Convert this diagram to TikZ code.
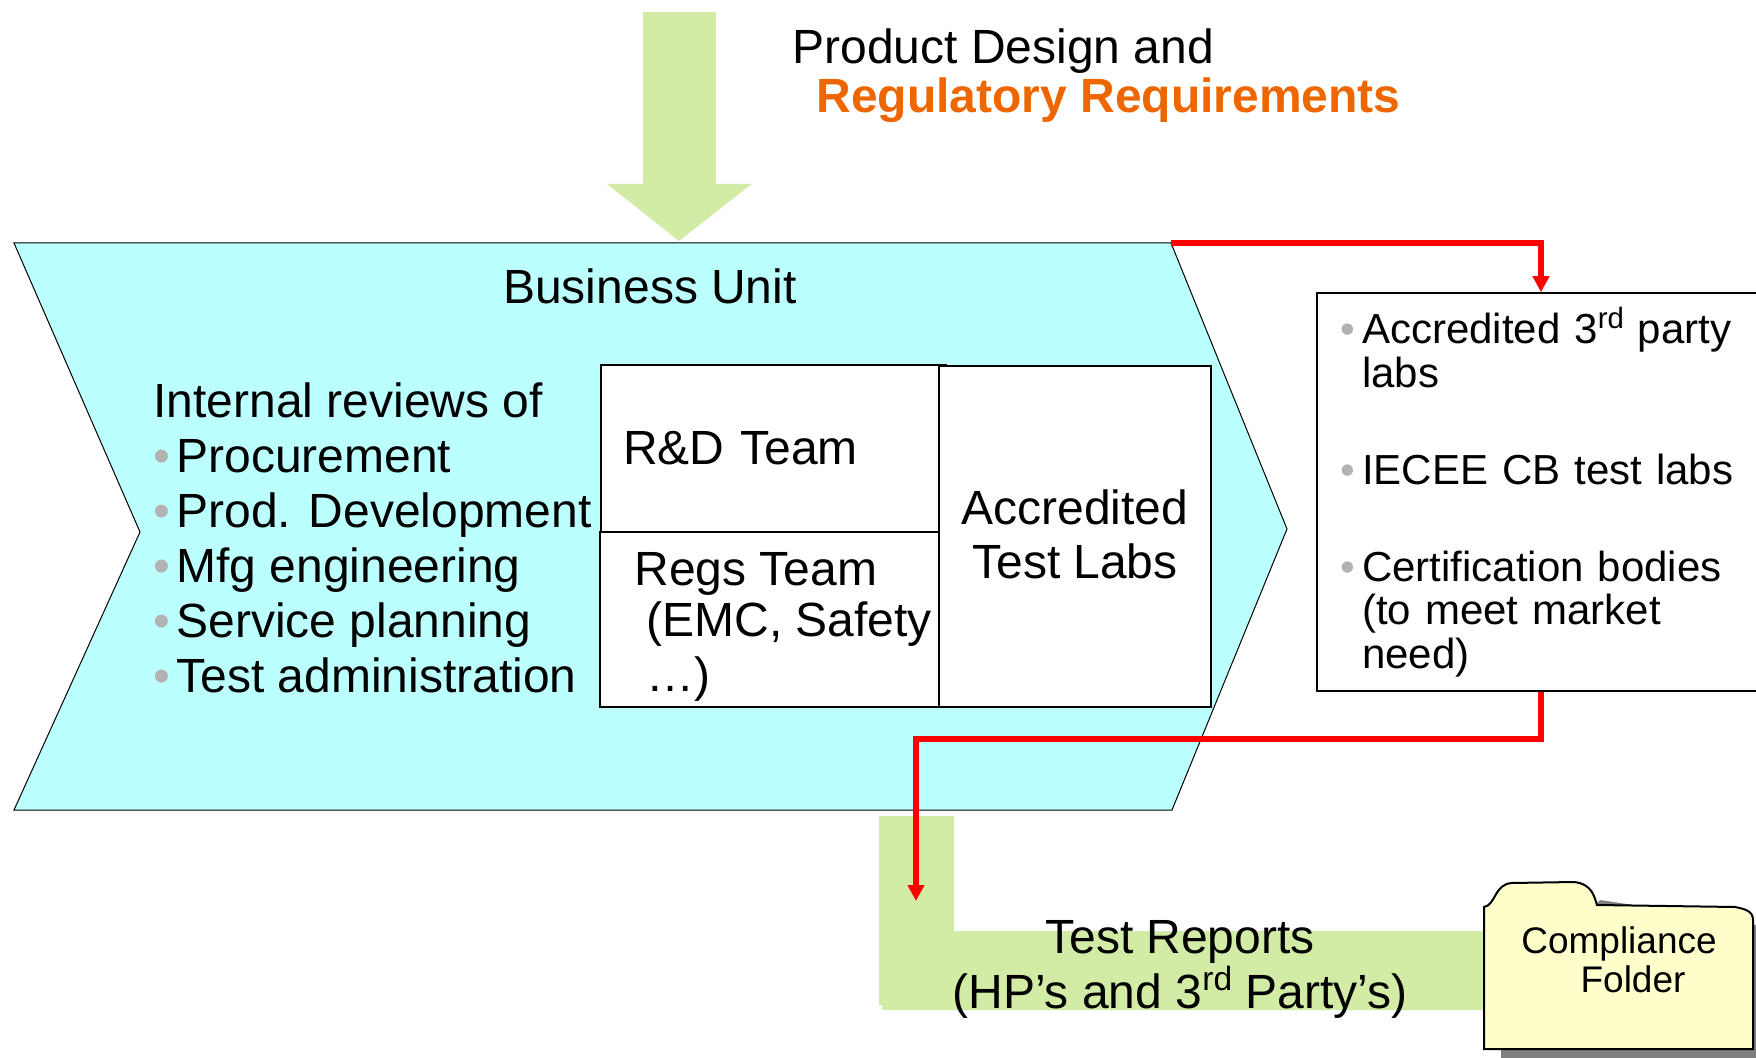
\documentclass[tikz,border=0pt]{standalone}
\usepackage{fontspec}
\setmainfont{Liberation Sans}
\usepackage{xcolor}
\usetikzlibrary{positioning,arrows.meta,calc}
\definecolor{unitcyan}{HTML}{BBFFFF}
\definecolor{flowgreen}{HTML}{D2EBA5}
\definecolor{folderyellow}{HTML}{FFFFCC}
\definecolor{reqorange}{HTML}{EE6600}
\definecolor{bulletgray}{HTML}{B2B2B2}
\definecolor{shadowgray}{HTML}{808080}
\newcommand{\bul}[1]{\makebox[#1][l]{\textcolor{bulletgray}{•}}}
\newcommand{\supsc}[1]{\raisebox{0.37em}{\scalebox{0.7}{#1}}}

\begin{document}
\begin{tikzpicture}[
    x=0.5pt, y=-0.5pt,
    lbl/.style={inner sep=0pt, font=\fontsize{24}{27.5}\selectfont, align=left},
    box/.style={draw, fill=white, line width=0.75pt, lbl},
    flow/.style={fill=flowgreen},
    redline/.style={draw=red, line width=2.6pt, -{Triangle[length=8pt, width=8pt]}}
]
\useasboundingbox (0,0) rectangle (1756,1058);

% Input arrow
\fill[flow] (643,12) -- (716,12) -- (716,184) -- (751.5,184) -- (679,241) -- (607,184) -- (643,184) -- cycle;
\node[lbl, anchor=north west] (design) at (792,28.5) {Product Design and\\[-3pt]
    \hspace*{12pt}\textcolor{reqorange}{\textbf{Regulatory Requirements}}};

% Business unit
\draw[fill=unitcyan, line width=0.5pt] (14,243) -- (1171,243) -- (1287,529) -- (1172,810) -- (14,810) -- (140,532) -- cycle;
\coordinate (unitcorner) at (1171,243);
\node[lbl] (unit) at (650,286) {Business Unit};
\node[lbl, anchor=north west] (reviews) at (153,382.5) {Internal reviews of\\
    \bul{11.5pt}Procurement\\
    \bul{11.5pt}Prod. Development\\
    \bul{11.5pt}Mfg engineering\\
    \bul{11.5pt}Service planning\\
    \bul{11.5pt}Test administration};

% Teams
\node[box, inner xsep=11pt, text width=150.5pt, minimum height=83.5pt] (rnd) at (773.5,448.5) {R\&D Team};
\node[box, minimum width=169.5pt, minimum height=87.5pt] (regs) at (769.5,619.5) {};
\node[lbl, anchor=north west] (regstext) at (634,552.5) {Regs Team\\[-2.25pt]
    \hspace*{6pt}(EMC, Safety\\
    \hspace*{6pt}…)};
\node[box, align=center, minimum width=136pt, minimum height=170.5pt] (acc) at (1075,536.5) {Accredited\\[-0.5pt]Test Labs\rule[-2.2pt]{0pt}{0pt}};

% External labs
\node[box, font=\fontsize{21}{21.8}\selectfont, inner xsep=11.5pt, text width=201pt, minimum height=199pt] (labs) at (1541,492) {%
    \bul{11pt}Accredited 3\supsc{rd} party\\
    \hspace*{11pt}labs\\[26.8pt]
    \bul{11pt}IECEE CB test labs\\[26.5pt]
    \bul{11pt}Certification bodies\\
    \hspace*{11pt}(to meet market\\
    \hspace*{11pt}need)};

% Reports
\fill[flow] (879,816) -- (954,816) -- (954,931) -- (1490,931) -- (1490,1010) -- (882,1010) -- (882,1005) -- (879,1005) -- cycle;
\node[lbl, align=center] (reports) at (1180,969.5) {Test Reports\\(HP’s and 3\supsc{rd} Party’s)};

% Folder
\fill[shadowgray] (1501,1058) -- (1756,1058) -- (1756,925) -- (1700,915) -- (1600,900) -- (1501,1000) -- cycle;
\draw[fill=folderyellow, line width=1pt] (1484,907) .. controls (1496,905) and (1494,884) .. (1512,883)
    -- (1574,882) .. controls (1592,884) and (1594,896) .. (1597,905)
    -- (1735,907) .. controls (1745,909) and (1753,911) .. (1753,920)
    -- (1753,1049) -- (1484,1049) -- cycle;
\node[lbl, align=center, font=\fontsize{18.5}{19.5}\selectfont] (folder) at (1619,960) {Compliance\\\hspace*{14pt}Folder};

% Red arrows
\coordinate (reportend) at (916,901);
\coordinate (bend) at (916,739);
\draw[redline] (unitcorner) -| (labs.north);
\draw[redline] (labs.south) |- (bend) -- (reportend);
\end{tikzpicture}
\end{document}
